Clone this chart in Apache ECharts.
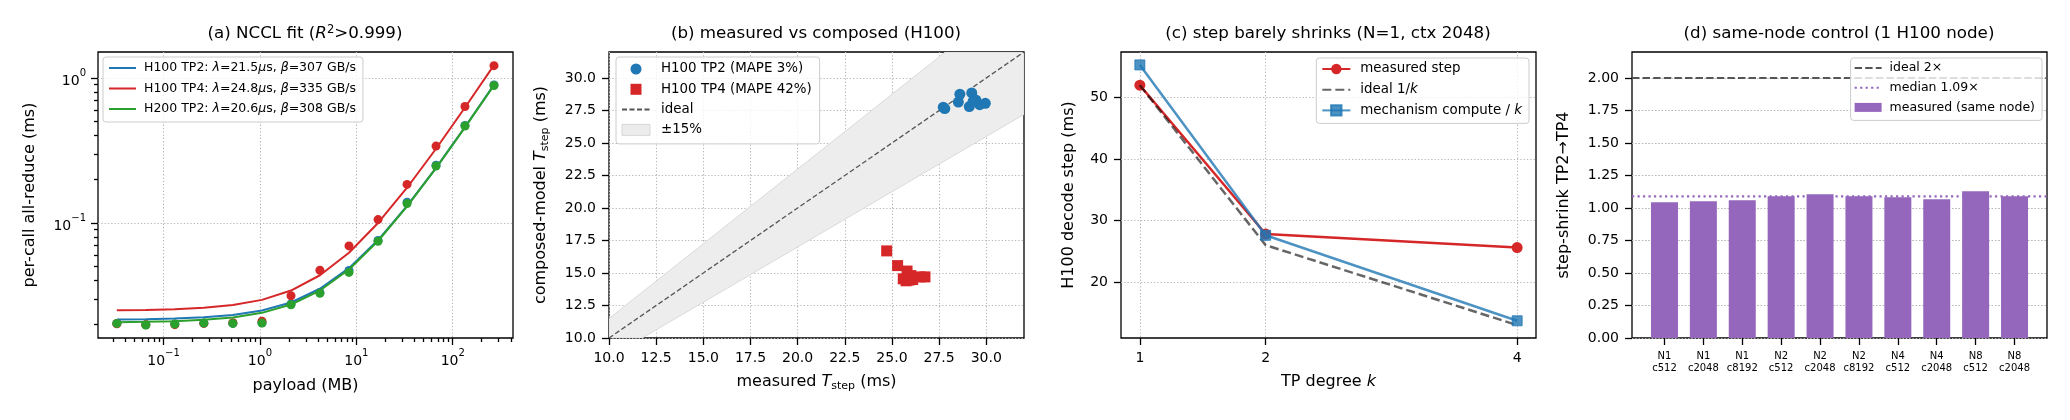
<!DOCTYPE html>
<html>
<head>
<meta charset="utf-8">
<title>TP scaling panels</title>
<script src="https://cdn.jsdelivr.net/npm/echarts@6/dist/echarts.min.js"></script>
<style>
  html, body { margin: 0; padding: 0; background: #fff; }
  #chart { width: 2070px; height: 420px; }
</style>
</head>
<body>
<div id="chart"></div>
<script>
// (a) NCCL all-reduce: payload doubling from 32 KB to 256 MB
const payloadMB = [0.0328, 0.0655, 0.131, 0.262, 0.524, 1.05, 2.10, 4.19, 8.39, 16.8, 33.6, 67.1, 134, 268];
const measH100TP2 = [0.0203, 0.0199, 0.0201, 0.0204, 0.0203, 0.0205, 0.0276, 0.0332, 0.0471, 0.0758, 0.139, 0.250, 0.470, 0.895];
const measH100TP4 = [0.0202, 0.0199, 0.0199, 0.0203, 0.0205, 0.0210, 0.0315, 0.0472, 0.0695, 0.1055, 0.1845, 0.339, 0.635, 1.216];
const measH200TP2 = [0.0203, 0.0198, 0.0201, 0.0204, 0.0203, 0.0204, 0.0273, 0.0327, 0.0456, 0.0748, 0.136, 0.247, 0.466, 0.887];
const fitH100TP2 = [0.0216, 0.0217, 0.0219, 0.0224, 0.0232, 0.0249, 0.0283, 0.0352, 0.0488, 0.0762, 0.131, 0.240, 0.459, 0.896];
const fitH100TP4 = [0.0250, 0.0251, 0.0254, 0.0260, 0.0272, 0.0295, 0.0342, 0.0436, 0.0624, 0.100, 0.175, 0.325, 0.626, 1.227];
const fitH200TP2 = [0.0207, 0.0208, 0.0210, 0.0215, 0.0223, 0.0240, 0.0274, 0.0342, 0.0478, 0.0751, 0.130, 0.239, 0.456, 0.892];
const aMajorX = [0.1, 1, 10, 100];
const aMinorX = [0.03, 0.04, 0.05, 0.06, 0.07, 0.08, 0.09, 0.2, 0.3, 0.4, 0.5, 0.6, 0.7, 0.8, 0.9,
  2, 3, 4, 5, 6, 7, 8, 9, 20, 30, 40, 50, 60, 70, 80, 90, 200, 300, 400];
const aMajorY = [0.1, 1];
const aMinorY = [0.02, 0.03, 0.04, 0.05, 0.06, 0.07, 0.08, 0.09, 0.2, 0.3, 0.4, 0.5, 0.6, 0.7, 0.8, 0.9];

// (b) measured vs composed step time (ms)
const tp2Measured = [27.72, 27.80, 28.52, 28.60, 29.23, 29.10, 29.45, 29.65, 29.95, 29.30];
const tp2Composed = [27.75, 27.65, 28.15, 28.75, 28.85, 27.80, 28.30, 27.95, 28.05, 28.20];
const tp4Measured = [24.72, 25.30, 25.80, 25.60, 25.90, 26.00, 26.50, 26.75, 25.75, 26.10];
const tp4Composed = [16.70, 15.57, 15.15, 14.55, 14.45, 14.80, 14.70, 14.70, 14.40, 14.50];
const idealLine = [[10, 10], [32, 32]];
const bandPoly = [[10, 10], [11.76, 10], [32, 27.2], [32, 32], [27.83, 32], [10, 11.5]];
const bTicks = [10, 12.5, 15, 17.5, 20, 22.5, 25, 27.5, 30];

// (c) decode step vs TP degree
const kValues = [1, 2, 4];
const measuredStep = [52.0, 27.8, 25.6];
const idealStep = [52.0, 26.0, 13.0];
const mechStep = [55.3, 27.6, 13.7];
const cYTicks = [20, 30, 40, 50];

// (d) same-node control
const configs = ['N1\nc512', 'N1\nc2048', 'N1\nc8192', 'N2\nc512', 'N2\nc2048', 'N2\nc8192', 'N4\nc512', 'N4\nc2048', 'N8\nc512', 'N8\nc2048'];
const shrink = [1.045, 1.052, 1.060, 1.091, 1.106, 1.091, 1.083, 1.068, 1.129, 1.091];
const idealShrink = 2.0;
const medianShrink = 1.09;
const dYTicks = [0, 0.25, 0.5, 0.75, 1.0, 1.25, 1.5, 1.75, 2.0];

const FONT = 'DejaVu Sans';
const BLUE = '#1f77b4';
const RED = '#d62728';
const GREEN = '#2ca02c';
const PURPLE = '#9467bd';
const GRID_DOT = { color: '#b8b8b8', width: 1.1, type: [1.3, 2] };
const NO_MARK = { color: 'rgba(0,0,0,0)', borderColor: 'rgba(0,0,0,0)', borderWidth: 0 };

const gridLefts = [98, 609, 1121, 1632];
const dXMin = -0.835;
const dXMax = 9.835;

// rich text pieces for titles / axis names (matplotlib mathtext look)
const txt = (size, more) => Object.assign({ fontSize: size, fontFamily: FONT, fontWeight: 'normal', color: '#000' }, more);
const richName = {
  n: txt(16, { lineHeight: 20, verticalAlign: 'middle' }),
  it: txt(16, { lineHeight: 20, verticalAlign: 'middle', fontStyle: 'italic' }),
  sub: txt(11, { lineHeight: 11, verticalAlign: 'bottom' }),
};
const richTitle = {
  n: txt(16.7, { lineHeight: 20, verticalAlign: 'middle' }),
  it: txt(16.7, { lineHeight: 20, verticalAlign: 'middle', fontStyle: 'italic' }),
  sup: txt(11.5, { lineHeight: 11, verticalAlign: 'top' }),
};
const richPow = {
  b: txt(14, { lineHeight: 20, verticalAlign: 'bottom' }),
  s: txt(10, { lineHeight: 12, verticalAlign: 'top' }),
};

function powLabel(v) {
  const e = Math.round(Math.log10(v));
  return '{b|10}{s|' + String(e).replace('-', '\u2212') + '}';
}

function makeTitle(i, text) {
  return {
    text,
    left: gridLefts[i] + 207,
    top: 24,
    textAlign: 'center',
    padding: 0,
    textStyle: { fontWeight: 'normal', rich: richTitle },
  };
}

function tickStyle(values, len) {
  return { show: true, length: len || 7, customValues: values, lineStyle: { color: '#000', width: 1.3 } };
}

function baseAxis(gridIndex, extra) {
  return Object.assign({
    gridIndex,
    axisLine: { show: false, onZero: false },
    splitLine: { show: true, lineStyle: GRID_DOT },
    nameLocation: 'middle',
    nameTextStyle: { rich: richName },
  }, extra);
}

function minorAxis(gridIndex, min, max, ticks, position) {
  return {
    gridIndex, type: 'log', logBase: 10, min, max, position,
    axisLine: { show: false, onZero: false },
    axisTick: tickStyle(ticks, 4),
    axisLabel: { show: false },
    splitLine: { show: false },
  };
}

function numLabels(values, fmt) {
  return { customValues: values, formatter: fmt, fontSize: 14, fontFamily: FONT, color: '#000', margin: 13 };
}

function legendBox(extra) {
  return Object.assign({
    orient: 'vertical',
    selectedMode: false,
    backgroundColor: 'rgba(255,255,255,0.8)',
    borderColor: '#cccccc',
    borderWidth: 1,
    borderRadius: 3,
  }, extra);
}

const aLegendText = {
  'H100 TP2': 'H100 TP2: {i|\u03bb}=21.5{i|\u03bc}s, {i|\u03b2}=307 GB/s',
  'H100 TP4': 'H100 TP4: {i|\u03bb}=24.8{i|\u03bc}s, {i|\u03b2}=335 GB/s',
  'H200 TP2': 'H200 TP2: {i|\u03bb}=20.6{i|\u03bc}s, {i|\u03b2}=308 GB/s',
};

const pairs = (xs, ys) => xs.map((x, i) => [x, ys[i]]);

const option = {
  animation: false,
  backgroundColor: '#fff',
  textStyle: { fontFamily: FONT },
  title: [
    makeTitle(0, '{n|(a) NCCL fit (}{it|R}{sup|2}{n|>0.999)}'),
    makeTitle(1, '{n|(b) measured vs composed (H100)}'),
    makeTitle(2, '{n|(c) step barely shrinks (N=1, ctx 2048)}'),
    makeTitle(3, '{n|(d) same-node control (1 H100 node)}'),
  ],
  legend: [
    legendBox({
      left: 103, top: 57,
      padding: [4, 7, 6, 5],
      itemWidth: 27, itemHeight: 10, itemGap: 6.5,
      data: Object.keys(aLegendText).map(name => ({ name, itemStyle: NO_MARK })),
      formatter: name => aLegendText[name],
      textStyle: {
        fontSize: 12.5, fontFamily: FONT, color: '#000', lineHeight: 14, padding: [0, 0, 0, 3],
        rich: { i: txt(12.5, { fontStyle: 'italic' }) },
      },
    }),
    legendBox({
      left: 616, top: 57,
      padding: [5, 8, 7, 5],
      itemWidth: 28, itemHeight: 11, itemGap: 6.3,
      data: [
        { name: 'H100 TP2 (MAPE 3%)' },
        { name: 'H100 TP4 (MAPE 42%)', icon: 'path://M0,0H10V10H0Z' },
        { name: 'ideal', itemStyle: NO_MARK },
        { name: '\u00b115%', icon: 'rect', itemStyle: { color: '#ececec', borderColor: '#d6d6d6', borderWidth: 1 } },
      ],
      textStyle: { fontSize: 13.4, fontFamily: FONT, color: '#000', lineHeight: 14, padding: [0, 0, 0, 6] },
    }),
    legendBox({
      right: 541, top: 58,
      padding: [4, 7, 6, 5],
      itemWidth: 28, itemHeight: 13, itemGap: 6.7,
      data: [
        { name: 'measured step' },
        { name: 'ideal 1/k', itemStyle: NO_MARK },
        { name: 'mechanism compute / k' },
      ],
      formatter: name => name.replace(/k$/, '{i|k}'),
      textStyle: {
        fontSize: 13.4, fontFamily: FONT, color: '#000', lineHeight: 14, padding: [0, 0, 0, 5],
        rich: { i: txt(13.4, { fontStyle: 'italic' }) },
      },
    }),
    legendBox({
      right: 28, top: 58,
      padding: [3, 7, 6, 3],
      itemWidth: 27, itemHeight: 9, itemGap: 5.7,
      data: [
        { name: 'ideal 2\u00d7', itemStyle: NO_MARK },
        { name: 'median 1.09\u00d7', itemStyle: NO_MARK },
        { name: 'measured (same node)', icon: 'rect' },
      ],
      textStyle: { fontSize: 12.5, fontFamily: FONT, color: '#000', lineHeight: 14, padding: [0, 0, 0, 3] },
    }),
  ],
  grid: gridLefts.map(left => ({
    left, top: 52, width: 415, height: 286,
    show: true, borderColor: '#000', borderWidth: 1.3, backgroundColor: 'rgba(0,0,0,0)',
  })),
  xAxis: [
    baseAxis(0, {
      type: 'log', logBase: 10, min: 0.0209, max: 422, position: 'bottom',
      name: '{n|payload (MB)}', nameGap: 38,
      axisTick: tickStyle(aMajorX),
      axisLabel: { customValues: aMajorX, formatter: powLabel, rich: richPow, margin: 10 },
    }),
    minorAxis(0, 0.0209, 422, aMinorX, 'bottom'),
    baseAxis(1, {
      type: 'value', min: 10, max: 32,
      name: '{n|measured }{it|T}{sub|step}{n| (ms)}', nameGap: 34,
      axisTick: tickStyle(bTicks),
      axisLabel: numLabels(bTicks, v => v.toFixed(1)),
    }),
    baseAxis(2, {
      type: 'value', min: 0.85, max: 4.15,
      name: '{n|TP degree }{it|k}', nameGap: 34,
      axisTick: tickStyle(kValues),
      axisLabel: numLabels(kValues, v => String(v)),
    }),
    baseAxis(3, {
      type: 'value', min: dXMin, max: dXMax,
      axisTick: tickStyle(configs.map((c, i) => i)),
      axisLabel: {
        customValues: configs.map((c, i) => i), formatter: v => configs[Math.round(v)],
        fontSize: 10, lineHeight: 11.7, fontFamily: FONT, color: '#000', margin: 13,
      },
      splitLine: { show: false },
    }),
  ],
  yAxis: [
    baseAxis(0, {
      type: 'log', logBase: 10, min: 0.0161, max: 1.51, position: 'left',
      name: '{n|per-call all-reduce (ms)}', nameGap: 58,
      axisTick: tickStyle(aMajorY),
      axisLabel: { customValues: aMajorY, formatter: powLabel, rich: richPow, margin: 12 },
    }),
    minorAxis(0, 0.0161, 1.51, aMinorY, 'left'),
    baseAxis(1, {
      type: 'value', min: 10, max: 32,
      name: '{n|composed-model }{it|T}{sub|step}{n| (ms)}', nameGap: 58,
      axisTick: tickStyle(bTicks),
      axisLabel: numLabels(bTicks, v => v.toFixed(1)),
    }),
    baseAxis(2, {
      type: 'value', min: 10.9, max: 57.4,
      name: '{n|H100 decode step (ms)}', nameGap: 42,
      axisTick: tickStyle(cYTicks),
      axisLabel: numLabels(cYTicks, v => String(v)),
    }),
    baseAxis(3, {
      type: 'value', min: 0, max: 2.2,
      name: '{n|step-shrink TP2\u2192TP4}', nameGap: 58,
      axisTick: tickStyle(dYTicks),
      axisLabel: numLabels(dYTicks, v => v.toFixed(2)),
    }),
  ],
  series: [
    // ---- (a)
    { type: 'scatter', name: 'pts H100 TP2', xAxisIndex: 0, yAxisIndex: 0, data: pairs(payloadMB, measH100TP2), symbolSize: 9, itemStyle: { color: BLUE, opacity: 1 }, z: 3 },
    { type: 'line', name: 'H100 TP2', xAxisIndex: 0, yAxisIndex: 0, data: pairs(payloadMB, fitH100TP2), symbol: 'none', lineStyle: { color: BLUE, width: 2 }, itemStyle: { color: BLUE }, z: 3 },
    { type: 'scatter', name: 'pts H100 TP4', xAxisIndex: 0, yAxisIndex: 0, data: pairs(payloadMB, measH100TP4), symbolSize: 9, itemStyle: { color: RED, opacity: 1 }, z: 4 },
    { type: 'line', name: 'H100 TP4', xAxisIndex: 0, yAxisIndex: 0, data: pairs(payloadMB, fitH100TP4), symbol: 'none', lineStyle: { color: RED, width: 2 }, itemStyle: { color: RED }, z: 4 },
    { type: 'scatter', name: 'pts H200 TP2', xAxisIndex: 0, yAxisIndex: 0, data: pairs(payloadMB, measH200TP2), symbolSize: 9, itemStyle: { color: GREEN, opacity: 1 }, z: 5 },
    { type: 'line', name: 'H200 TP2', xAxisIndex: 0, yAxisIndex: 0, data: pairs(payloadMB, fitH200TP2), symbol: 'none', lineStyle: { color: GREEN, width: 2 }, itemStyle: { color: GREEN }, z: 5 },

    // ---- (b)
    {
      type: 'custom', name: '\u00b115%', xAxisIndex: 2, yAxisIndex: 2, clip: true, silent: true, z: 1,
      data: [bandPoly[0]],
      renderItem: (params, api) => ({
        type: 'polygon',
        shape: { points: bandPoly.map(p => api.coord(p)) },
        style: { fill: '#ededed', stroke: '#dadada', lineWidth: 1 },
      }),
    },
    { type: 'line', name: 'ideal', xAxisIndex: 2, yAxisIndex: 2, data: idealLine, symbol: 'none', lineStyle: { color: '#555', width: 1.3, type: [5, 2.5] }, itemStyle: { color: '#555' }, z: 2 },
    { type: 'scatter', name: 'H100 TP2 (MAPE 3%)', xAxisIndex: 2, yAxisIndex: 2, data: pairs(tp2Measured, tp2Composed), symbolSize: 11, itemStyle: { color: BLUE, opacity: 1 }, z: 4 },
    { type: 'scatter', name: 'H100 TP4 (MAPE 42%)', xAxisIndex: 2, yAxisIndex: 2, data: pairs(tp4Measured, tp4Composed), symbol: 'rect', symbolSize: 11, itemStyle: { color: RED, opacity: 1 }, z: 4 },

    // ---- (c)
    { type: 'line', name: 'measured step', xAxisIndex: 3, yAxisIndex: 3, data: pairs(kValues, measuredStep), symbol: 'circle', symbolSize: 11, lineStyle: { color: RED, width: 2.5 }, itemStyle: { color: RED }, z: 3 },
    { type: 'line', name: 'ideal 1/k', xAxisIndex: 3, yAxisIndex: 3, data: pairs(kValues, idealStep), symbol: 'none', lineStyle: { color: 'rgba(0,0,0,0.6)', width: 2.5, type: [9, 4] }, itemStyle: { color: 'rgba(0,0,0,0.6)' }, z: 4 },
    { type: 'line', name: 'mechanism compute / k', xAxisIndex: 3, yAxisIndex: 3, data: pairs(kValues, mechStep), symbol: 'rect', symbolSize: 10, lineStyle: { color: 'rgba(31,119,180,0.8)', width: 2.5 }, itemStyle: { color: 'rgba(31,119,180,0.8)', borderColor: 'rgba(31,119,180,0.8)', borderWidth: 1 }, z: 5 },

    // ---- (d)  y grid drawn as markLine, the split lines of this grid do not show
    {
      type: 'bar', name: 'measured (same node)', xAxisIndex: 4, yAxisIndex: 4,
      data: configs.map((c, i) => [i, shrink[i]]), barWidth: 27, itemStyle: { color: PURPLE }, z: 2,
      markLine: {
        silent: true, symbol: 'none', z: 1, animation: false,
        label: { show: false }, emphasis: { disabled: true },
        lineStyle: GRID_DOT,
        data: dYTicks.slice(1).map(v => ({ yAxis: v })),
      },
    },
    { type: 'line', name: 'ideal 2\u00d7', xAxisIndex: 4, yAxisIndex: 4, data: [[dXMin, idealShrink], [dXMax, idealShrink]], symbol: 'none', lineStyle: { color: '#555', width: 2.2, type: [7.4, 3.2] }, itemStyle: { color: '#555' }, z: 3 },
    { type: 'line', name: 'median 1.09\u00d7', xAxisIndex: 4, yAxisIndex: 4, data: [[dXMin, medianShrink], [dXMax, medianShrink]], symbol: 'none', lineStyle: { color: PURPLE, width: 2.2, type: [2.2, 3.3] }, itemStyle: { color: PURPLE }, z: 3 },
  ],
};

const myChart = echarts.init(document.getElementById('chart'));
myChart.setOption(option);
</script>
</body>
</html>
